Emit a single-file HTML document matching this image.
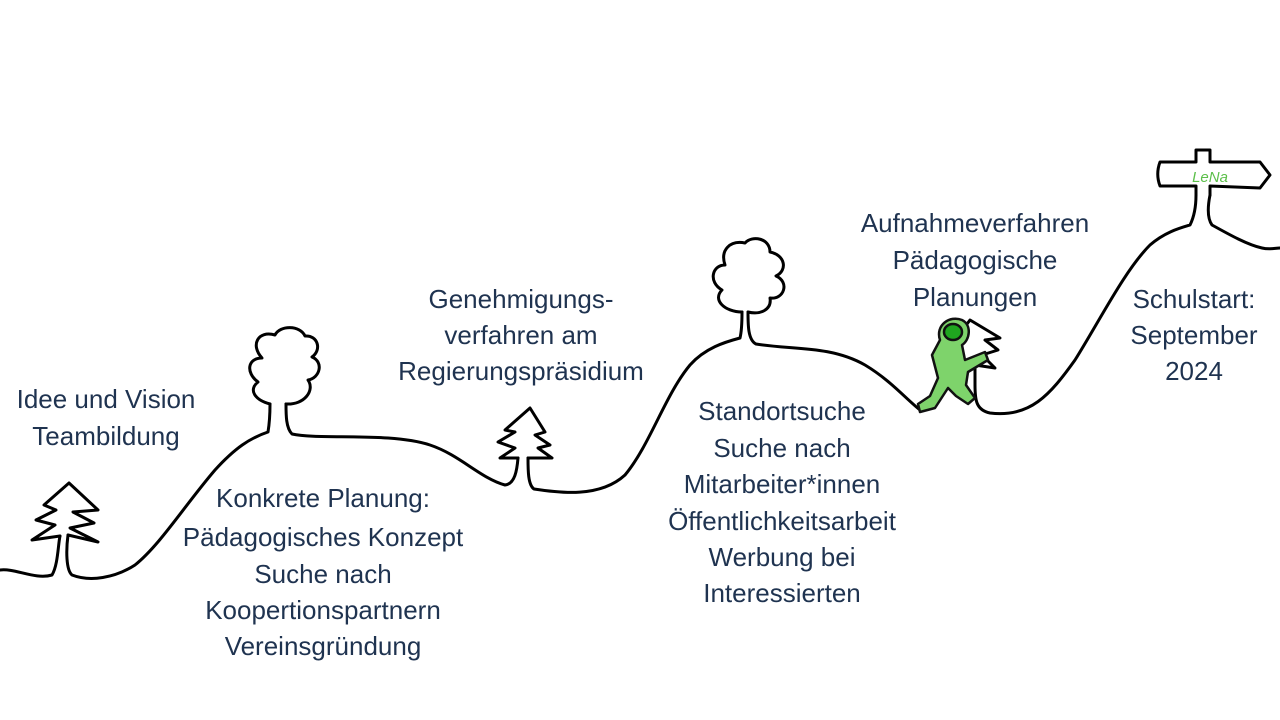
<!DOCTYPE html>
<html><head><meta charset="utf-8"><style>
html,body{margin:0;padding:0;background:#fff;}
svg{display:block;}
text{font-family:"Liberation Sans",sans-serif;font-size:26px;fill:#1f3350;text-anchor:middle;}
</style></head><body>
<svg width="1280" height="720" viewBox="0 0 1280 720" xmlns="http://www.w3.org/2000/svg">
<g fill="none" stroke="#000" stroke-width="3" stroke-linecap="round" stroke-linejoin="round">
<path d="M0,570 C15,568 35,580 52,575 C58,565 58,545 60,536"/>
<path d="M68,535 C66,550 66,570 72,575 C90,582 115,578 135,565 C160,545 185,505 215,470 C235,448 250,438 268,432 C270,420 270,410 270,404"/>
<path d="M286,404 C286,415 286,428 292,434 C320,440 390,432 430,445 C460,455 480,478 505,485 C515,484 517,470 518,458"/>
<path d="M528,458 C528,470 528,485 534,489 C560,493 600,498 625,475 C650,445 665,395 690,365 C705,348 725,342 740,338 C742,330 742,320 742,312"/>
<path d="M748,312 C748,325 748,340 756,344 C790,350 830,345 865,365 C890,380 905,398 920,410"/>
<path d="M975,385 C975,400 976,410 990,413 C1030,418 1050,395 1075,360 C1100,320 1125,270 1150,245 C1165,232 1180,228 1190,225 C1195,215 1196,205 1196,195"/>
<path d="M1210,195 C1208,205 1207,218 1212,225 C1230,235 1248,245 1262,248 C1270,250 1275,248 1280,248"/>
<path d="M60,536 L32,540 L55,525 L36,520 L56,510 L44,505 L69,483 L98,510 L73,512 L94,523 L70,528 L98,542 L68,535"/>
<path d="M518,458 L500,458 L515,448 L498,442 L515,432 L505,430 L530,408 L545,432 L535,435 L550,445 L538,448 L552,458 L528,458"/>
<path d="M270,404 C255,400 248,390 258,382 C245,372 248,358 262,358 C250,345 258,330 275,335 C280,325 300,325 305,336 C318,335 322,350 312,357 C324,362 320,378 308,380 C315,390 305,405 286,404"/>
<path d="M742,312 C725,312 712,300 722,290 C708,282 712,265 725,265 C720,250 730,240 745,243 C752,235 770,238 770,252 C785,255 788,270 776,276 C790,282 784,300 770,298 C772,310 760,315 748,312"/>
<path d="M1196,195 L1196,186 L1160,186 C1157,178 1157,170 1160,162 L1196,162 L1196,150 L1210,150 L1210,162 L1260,162 L1270,175 L1260,188 L1210,186 L1210,195"/>
<path d="M975,385 L975,365 L995,368 L982,355 L998,350 L985,340 L1000,338 L970,320 L955,340"/>
</g>
<text x="1210" y="182" style="font-size:15px;fill:#5cbf4a;font-style:italic;">LeNa</text>
<g stroke="#111" stroke-width="2.5" stroke-linejoin="round">
<path d="M940,340 C935,325 950,315 962,320 C972,325 970,340 962,345 L965,360 L985,352 L988,360 L968,372 L966,385 L975,398 L968,404 L956,396 L948,388 L935,408 L920,412 L918,404 L930,396 L938,378 L932,355 Z" fill="#7ed36b"/>
<ellipse cx="953" cy="332" rx="9" ry="8" fill="#1fa61f"/>
</g>
<text x="106" y="408">Idee und Vision</text>
<text x="106" y="445">Teambildung</text>
<text x="323" y="507">Konkrete Planung:</text>
<text x="323" y="546">Pädagogisches Konzept</text>
<text x="323" y="583">Suche nach</text>
<text x="323" y="619">Koopertionspartnern</text>
<text x="323" y="655">Vereinsgründung</text>
<text x="521" y="308">Genehmigungs-</text>
<text x="521" y="344">verfahren am</text>
<text x="521" y="380">Regierungspräsidium</text>
<text x="782" y="420">Standortsuche</text>
<text x="782" y="457">Suche nach</text>
<text x="782" y="493">Mitarbeiter*innen</text>
<text x="782" y="530">Öffentlichkeitsarbeit</text>
<text x="782" y="566">Werbung bei</text>
<text x="782" y="602">Interessierten</text>
<text x="975" y="232">Aufnahmeverfahren</text>
<text x="975" y="269">Pädagogische</text>
<text x="975" y="306">Planungen</text>
<text x="1194" y="308">Schulstart:</text>
<text x="1194" y="344">September</text>
<text x="1194" y="380">2024</text>
</svg>
</body></html>
